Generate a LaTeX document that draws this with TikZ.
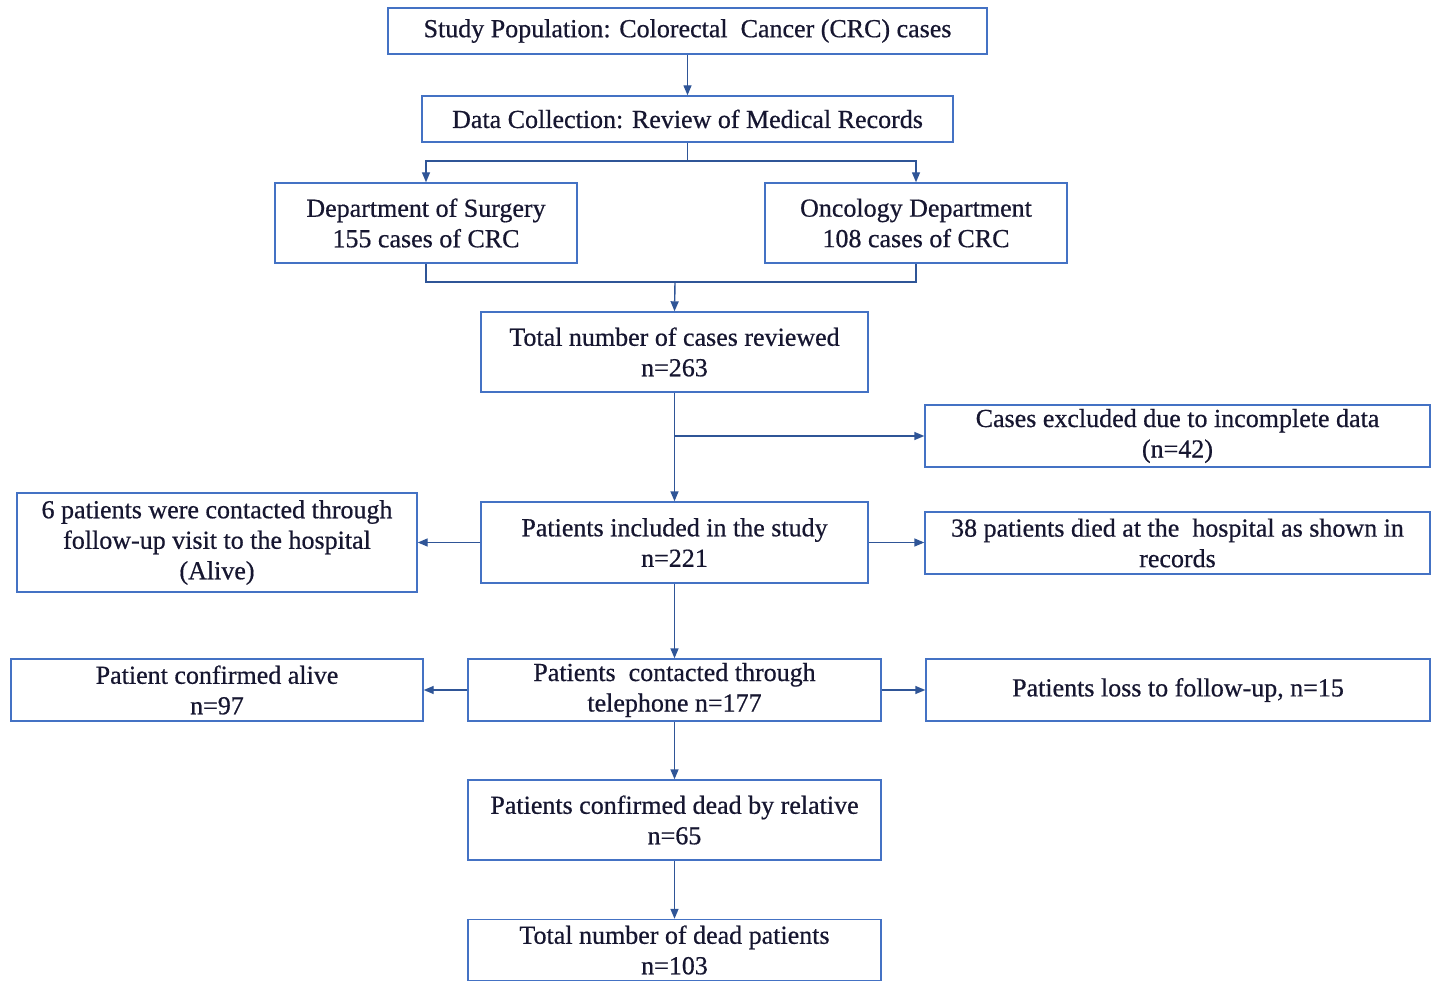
\documentclass[tikz,border=0pt]{standalone}
\usepackage{fontspec}
\setmainfont{Liberation Serif}[FakeBold=0.6]
\usetikzlibrary{arrows.meta}
\definecolor{boxblue}{RGB}{68,114,196}
\definecolor{lineblue}{RGB}{47,85,151}
\definecolor{txt}{RGB}{22,22,48}
\begin{document}
\begin{tikzpicture}[x=1pt,y=-1pt,
  box/.style={draw=boxblue, line width=1.4pt, align=center, inner sep=0pt, text=txt,
    font=\fontsize{26}{30.5}\selectfont},
  conn/.style={draw=lineblue, line width=1.4pt},
  arr/.style={conn, -{Triangle[length=10pt,width=8pt]}}]
\useasboundingbox (0,0) rectangle (1434,981);
\node[box, minimum width=599pt, minimum height=46pt] (pop) at (687.5,31) {Study Population: Colorectal~~Cancer (CRC) cases};
\node[box, minimum width=531pt, minimum height=46pt] (dc) at (687.5,119) {Data Collection: Review of Medical Records};
\node[box, minimum width=302pt, minimum height=80pt] (surg) at (426,223) {Department of Surgery\\155 cases of CRC};
\node[box, minimum width=302pt, minimum height=80pt] (onc) at (916,223) {Oncology Department\\108 cases of CRC};
\node[box, minimum width=387pt, minimum height=80pt] (total) at (674.5,352) {Total number of cases reviewed\\n=263};
\node[box, minimum width=505pt, minimum height=62pt] (excl) at (1177.5,436) {Cases excluded due to incomplete data\\(n=42)};
\node[box, minimum width=387pt, minimum height=81pt] (incl) at (674.5,542.5) {Patients included in the study\\n=221};
\node[box, minimum width=400pt, minimum height=99pt] (visit) at (217,542.5) {6 patients were contacted through\\follow-up visit to the hospital\\(Alive)};
\node[box, minimum width=505pt, minimum height=62pt] (died) at (1177.5,543) {38 patients died at the~~hospital as shown in\\records};
\node[box, minimum width=413pt, minimum height=62pt] (tel) at (674.5,690) {Patients~~contacted through\\telephone n=177};
\node[box, minimum width=412pt, minimum height=62pt] (alive) at (217,690) {Patient confirmed alive\\n=97};
\node[box, minimum width=504pt, minimum height=62pt] (loss) at (1178,690) {Patients loss to follow-up, n=15};
\node[box, minimum width=413pt, minimum height=80pt] (dead) at (674.5,820) {Patients confirmed dead by relative\\n=65};
\node[box, minimum width=413pt, minimum height=61pt] (tdead) at (674.5,950) {Total number of dead patients\\n=103};
% connectors
\draw[arr] (pop) -- (dc);
\coordinate (s1) at (687.5,161);
\draw[conn] (dc.south) -- (s1);
\draw[arr] (s1) -| (surg.north);
\draw[arr] (s1) -| (onc.north);
\coordinate (j2) at (675,282);
\draw[conn] (surg.south) |- (j2) -| (onc.south);
\draw[arr] (j2) -- (total.north);
\draw[arr] (total.south) -- (incl.north);
\coordinate (b1) at (total.south |- excl.west);
\draw[arr] (b1) -- (excl.west);
\draw[arr] (incl.west) -- (visit.east);
\draw[arr] (incl.east) -- (incl.east -| died.west);
\draw[arr] (incl.south) -- (tel.north);
\draw[arr] (tel.west) -- (alive.east);
\draw[arr] (tel.east) -- (loss.west);
\draw[arr] (tel.south) -- (dead.north);
\draw[arr] (dead.south) -- (tdead.north);
\end{tikzpicture}
\end{document}
